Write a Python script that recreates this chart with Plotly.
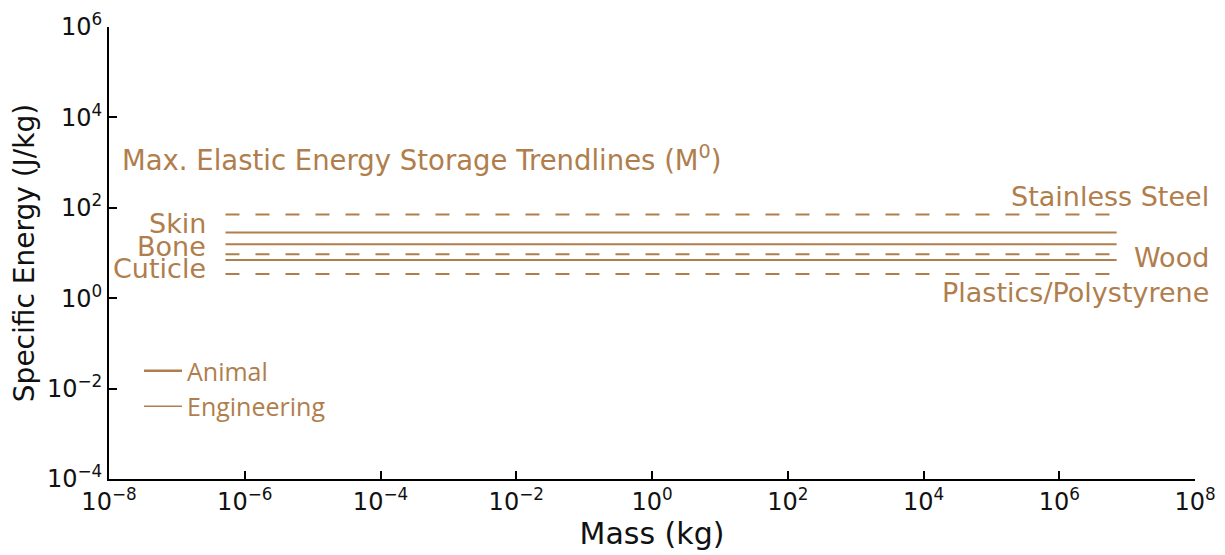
import plotly.graph_objects as go

# ---- data ----
mass_range = [5.2e-7, 7.0e6]           # kg, extent of trendlines
animal_names = ["Skin", "Bone", "Cuticle"]
animal_energy = [28.5, 15.7, 7.0]       # J/kg
eng_names = ["Stainless Steel", "Wood", "Plastics/Polystyrene"]
eng_energy = [71.0, 9.4, 3.45]          # J/kg

x_tickvals = [1e-8, 1e-6, 1e-4, 1e-2, 1e0, 1e2, 1e4, 1e6, 1e8]
x_ticktext = ["10<sup>−8</sup>", "10<sup>−6</sup>", "10<sup>−4</sup>", "10<sup>−2</sup>",
              "10<sup>0</sup>", "10<sup>2</sup>", "10<sup>4</sup>", "10<sup>6</sup>",
              "10<sup>8</sup>"]
y_tickvals = [1e-4, 1e-2, 1e0, 1e2, 1e4, 1e6]
y_ticktext = ["10<sup>−4</sup>", "10<sup>−2</sup>", "10<sup>0</sup>", "10<sup>2</sup>",
              "10<sup>4</sup>", "10<sup>6</sup>"]

BROWN = "rgb(176,126,76)"
FONT = "DejaVu Sans"

fig = go.Figure()

for name, v in zip(animal_names, animal_energy):
    fig.add_trace(go.Scatter(x=mass_range, y=[v, v], mode="lines", name=name,
                             line=dict(color=BROWN, width=2), showlegend=False,
                             hoverinfo="skip"))
for name, v in zip(eng_names, eng_energy):
    fig.add_trace(go.Scatter(x=mass_range, y=[v, v], mode="lines", name=name,
                             line=dict(color=BROWN, width=2, dash="14px,16px"),
                             showlegend=False, hoverinfo="skip"))

# legend entries
fig.add_trace(go.Scatter(x=[None], y=[None], mode="lines", name="Animal",
                         line=dict(color=BROWN, width=2.6)))
fig.add_trace(go.Scatter(x=[None], y=[None], mode="lines", name="Engineering",
                         line=dict(color=BROWN, width=1.6)))

PL, PR, PT, PB = 109, 1195, 27, 479
def px_x(px):
    return (px - PL) / (PR - PL)
def px_y(py):
    return (PB - py) / (PB - PT)

ann_font = dict(family=FONT, size=27, color=BROWN)
annotations = [
    dict(text="Max. Elastic Energy Storage Trendlines (M<sup>0</sup>)",
         x=px_x(120), y=px_y(158), xanchor="left", yanchor="middle",
         font=dict(family=FONT, size=27.5, color=BROWN)),
    dict(text="Stainless Steel", x=px_x(1211), y=px_y(196), xanchor="right", yanchor="middle"),
    dict(text="Wood", x=px_x(1211), y=px_y(257), xanchor="right", yanchor="middle"),
    dict(text="Plastics/Polystyrene", x=px_x(1211), y=px_y(292), xanchor="right", yanchor="middle"),
    dict(text="Skin", x=px_x(208), y=px_y(223.5), xanchor="right", yanchor="middle"),
    dict(text="Bone", x=px_x(208), y=px_y(246), xanchor="right", yanchor="middle"),
    dict(text="Cuticle", x=px_x(208), y=px_y(268), xanchor="right", yanchor="middle"),
]
for a in annotations:
    a.update(xref="paper", yref="paper", showarrow=False)
    a.setdefault("font", ann_font)

fig.update_layout(
    width=1225, height=555,
    margin=dict(l=PL, r=1225 - PR, t=PT, b=555 - PB, autoexpand=False),
    paper_bgcolor="white", plot_bgcolor="white",
    font=dict(family=FONT, color="#111"),
    annotations=annotations,
    showlegend=True,
    legend=dict(x=px_x(139), y=px_y(348), xanchor="left", yanchor="top",
                bgcolor="rgba(0,0,0,0)", tracegroupgap=0,
                font=dict(family="Open Sans", size=25, color=BROWN),
                itemwidth=38),
)
axis_common = dict(type="log", showgrid=False, zeroline=False,
                   showline=True, linecolor="black", linewidth=2,
                   ticks="inside", ticklen=8, tickwidth=1.5, tickcolor="black",
                   tickfont=dict(family=FONT, size=24, color="#111"),
                   automargin=False, ticklabeloverflow="allow")
fig.update_xaxes(range=[-8, 8], tickvals=x_tickvals, ticktext=x_ticktext,
                 title=dict(text="Mass (kg)", font=dict(family=FONT, size=30, color="#111"),
                            standoff=2), **axis_common)
fig.update_yaxes(range=[-4, 6], tickvals=y_tickvals, ticktext=y_ticktext,
                 title=dict(text="Specific Energy (J/kg)",
                            font=dict(family=FONT, size=28, color="#111"),
                            standoff=4), **axis_common)

fig.write_html("out.html")
